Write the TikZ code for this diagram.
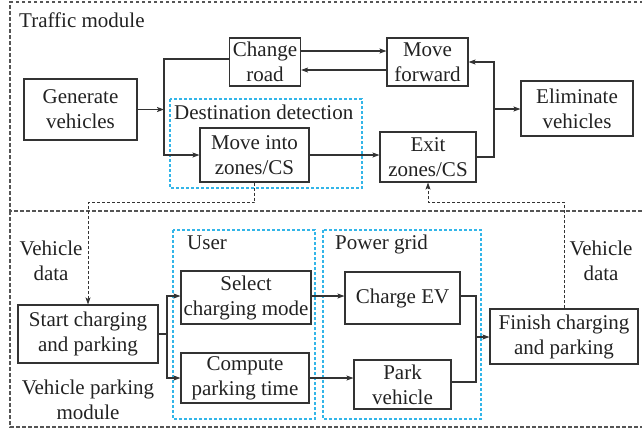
\documentclass[tikz,border=0pt]{standalone}
\usepackage{fontspec}
\setmainfont{Liberation Serif}
\usetikzlibrary{arrows.meta}
\definecolor{ln}{HTML}{333333}
\definecolor{tx}{HTML}{222222}
\definecolor{cy}{HTML}{33B5E8}
\definecolor{gr}{HTML}{555555}
\tikzset{
  txt/.style={font=\fontsize{21}{25}\selectfont, text=tx, inner sep=0pt, align=center},
  box/.style={txt, draw=ln, line width=1.1pt},
  arr/.style={draw=ln, line width=1.1pt, -{Stealth[length=7pt,width=5pt,inset=1.5pt]}},
  plain/.style={draw=ln, line width=1.1pt},
  darr/.style={draw=ln, line width=0.9pt, dash pattern=on 3pt off 2pt, -{Stealth[length=7pt,width=5pt,inset=1.5pt]}},
  outerbox/.style={draw=gr, line width=1.1pt, dash pattern=on 3.5pt off 2.5pt},
  cyanbox/.style={draw=cy, line width=1.1pt, dash pattern=on 3pt off 2pt},
}
\begin{document}
\begin{tikzpicture}[x=1pt,y=-1pt]
\useasboundingbox (0,0) rectangle (642,432);
% module frames
\draw[outerbox] (643,2) -- (10,2) -- (10,211) -- (643,211);
\draw[outerbox] (10,211) -- (10,427) -- (643,427);
% dashed group boxes
\draw[cyanbox] (170,99) rectangle (362,188);
\draw[cyanbox] (173,230) rectangle (315,419);
\draw[cyanbox] (323,230) rectangle (481,419);
% labels
\node[txt, anchor=base west] (ltm) at (19,27.5) {Traffic module};
\node[txt, anchor=base west] (ldd) at (174,119.5) {Destination detection};
\node[txt, anchor=base west] (lus) at (187,249) {User};
\node[txt, anchor=base west] (lpg) at (335,249) {Power grid};
\node[txt] (lvd1) at (51,260.5) {Vehicle\\data};
\node[txt] (lvd2) at (601,260.5) {Vehicle\\data};
\node[txt] (lvp) at (88,399.5) {Vehicle parking\\module};
% nodes
\node[box, minimum width=113pt, minimum height=61pt] (gen) at (80.5,109.5) {Generate\\vehicles};
\node[box, minimum width=71pt, minimum height=48pt] (cr) at (265,62) {Change\\road};
\node[box, minimum width=81pt, minimum height=48pt] (mf) at (427.5,62) {Move\\forward};
\node[box, minimum width=112pt, minimum height=55pt] (el) at (577,108.5) {Eliminate\\vehicles};
\node[box, minimum width=109pt, minimum height=54pt] (mi) at (254.5,155) {Move into\\zones/CS};
\node[box, minimum width=96pt, minimum height=50pt] (ex) at (428,157) {Exit\\zones/CS};
\node[box, minimum width=140pt, minimum height=58pt] (sc) at (88,334) {Start charging\\and parking};
\node[box, minimum width=130pt, minimum height=53pt] (sel) at (246,297.5) {Select\\charging mode};
\node[box, minimum width=128pt, minimum height=50pt] (cp) at (245,378) {Compute\\parking time};
\node[box, minimum width=115pt, minimum height=52pt] (ch) at (402.5,298) {Charge EV};
\node[box, minimum width=97pt, minimum height=49pt] (pk) at (402.5,384.5) {Park\\vehicle};
\node[box, minimum width=148pt, minimum height=55pt] (fc) at (564,336.5) {Finish charging\\and parking};
% junctions
\coordinate (j1) at (164,109.5);
\coordinate (j2) at (494,109);
\coordinate (j3) at (167,334);
\coordinate (j4) at (476,337);
\coordinate (d2) at (564,202);
% traffic connectors
\draw[arr] (gen) -- (j1);
\draw[arr] ([yshift=3pt]cr.west) -| (j1) |- (mi.west);
\draw[arr] ([yshift=11pt]cr.east) -- ([yshift=11pt]cr.east -| mf.west);
\draw[arr] ([yshift=-8pt]mf.west) -- ([yshift=-8pt]mf.west -| cr.east);
\draw[arr] (mi.east) -- (mi.east -| ex.west);
\draw[arr] (ex.east) -| (j2) |- (mf.east);
\draw[arr] (j2) -- (j2 -| el.west);
% data links
\draw[darr] (mi.south) -- ++(0,20) -| (sc.north);
\draw[darr] (fc.north) -- (d2) -| (ex.south);
% parking connectors
\draw[plain] (sc.east) -- (j3);
\draw[arr] (j3) |- ([yshift=1.5pt]sel.west);
\draw[arr] (j3) |- (cp.west);
\draw[arr] ([yshift=1.5pt]sel.east) -- ([yshift=1.5pt]sel.east -| ch.west);
\draw[arr] (cp.east) -- (cp.east -| pk.west);
\draw[plain] ([yshift=2pt]ch.east) -| (j4);
\draw[plain] ([yshift=2.5pt]pk.east) -| (j4);
\draw[arr] (j4) -- (j4 -| fc.west);
\end{tikzpicture}
\end{document}
